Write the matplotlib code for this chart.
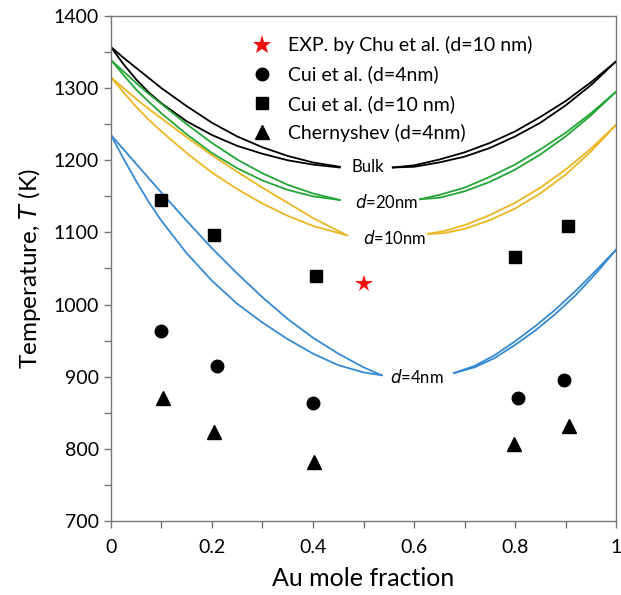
import matplotlib
matplotlib.use('Agg')
import matplotlib.pyplot as plt
from matplotlib.ticker import MultipleLocator
from matplotlib.lines import Line2D

plt.rcParams['font.family'] = ['Lato', 'DejaVu Sans']

# ---- phase boundary curves (Au mole fraction, T in K) ----
# left branches run from x=0 to the label gap, right branches from the gap to x=1
xl_a = [0, 0.025, 0.05, 0.075, 0.1, 0.15, 0.2, 0.25, 0.3, 0.35, 0.4, 0.453]

bulk_liq_l = [1357, 1342, 1328, 1314, 1300, 1275, 1252, 1233, 1218, 1206, 1197, 1191]
bulk_sol_l = [1357, 1333, 1312, 1294, 1279, 1254, 1235, 1220, 1209, 1200, 1194, 1190]
bulk_xr = [0.558, 0.6, 0.65, 0.7, 0.75, 0.8, 0.85, 0.9, 0.95, 1.0]
bulk_liq_r = [1190, 1193, 1201, 1211, 1224, 1240, 1260, 1282, 1308, 1337]
bulk_sol_r = [1190, 1191, 1197, 1205, 1217, 1233, 1252, 1276, 1304, 1337]

d20_liq_l = [1339, 1323, 1307, 1292, 1278, 1250, 1224, 1201, 1182, 1166, 1154, 1145]
d20_sol_l = [1339, 1318, 1298, 1281, 1265, 1236, 1210, 1189, 1172, 1159, 1150, 1145]
d20_xr = [0.612, 0.65, 0.7, 0.75, 0.8, 0.85, 0.9, 0.95, 1.0]
d20_liq_r = [1146, 1152, 1162, 1177, 1194, 1215, 1238, 1265, 1295]
d20_sol_r = [1146, 1148, 1157, 1170, 1187, 1208, 1233, 1262, 1295]

d10_xl = [0, 0.025, 0.05, 0.075, 0.1, 0.15, 0.2, 0.25, 0.3, 0.35, 0.4, 0.467]
d10_liq_l = [1315, 1300, 1285, 1271, 1258, 1232, 1207, 1184, 1162, 1141, 1120, 1096]
d10_sol_l = [1315, 1294, 1274, 1256, 1240, 1210, 1183, 1160, 1140, 1123, 1109, 1096]
d10_xr = [0.628, 0.66, 0.7, 0.75, 0.8, 0.85, 0.9, 0.95, 1.0]
d10_liq_r = [1098, 1102, 1110, 1124, 1141, 1162, 1187, 1216, 1249]
d10_sol_r = [1098, 1099, 1105, 1117, 1133, 1154, 1180, 1212, 1249]

d4_xl = [0, 0.025, 0.05, 0.075, 0.1, 0.15, 0.2, 0.25, 0.3, 0.35, 0.4, 0.45, 0.5, 0.536]
d4_liq_l = [1235, 1215, 1195, 1175, 1155, 1116, 1078, 1043, 1010, 980, 954, 932, 913, 902]
d4_sol_l = [1235, 1202, 1171, 1142, 1116, 1071, 1033, 1001, 975, 952, 932, 916, 906, 902]
d4_xr = [0.679, 0.72, 0.76, 0.8, 0.84, 0.88, 0.92, 0.96, 1.0]
d4_liq_r = [905, 915, 930, 949, 970, 993, 1019, 1047, 1076]
d4_sol_r = [905, 913, 926, 944, 964, 987, 1013, 1043, 1076]

# ---- literature points ----
chu_x = [0.5]
chu_T = [1029]
cui4_x = [0.1, 0.21, 0.4, 0.805, 0.897]
cui4_T = [964, 915, 864, 870, 896]
cui10_x = [0.1, 0.204, 0.406, 0.8, 0.905]
cui10_T = [1145, 1096, 1040, 1066, 1109]
cher_x = [0.104, 0.204, 0.401, 0.797, 0.906]
cher_T = [870, 824, 782, 807, 832]

curves = [
    ('black', xl_a, bulk_liq_l, bulk_sol_l, bulk_xr, bulk_liq_r, bulk_sol_r),
    ('#23a637', xl_a, d20_liq_l, d20_sol_l, d20_xr, d20_liq_r, d20_sol_r),
    ('#ecb622', d10_xl, d10_liq_l, d10_sol_l, d10_xr, d10_liq_r, d10_sol_r),
    ('#358ad2', d4_xl, d4_liq_l, d4_sol_l, d4_xr, d4_liq_r, d4_sol_r),
]

fig = plt.figure(figsize=(6.21, 5.95), dpi=100)
ax = fig.add_axes([0.1787, 0.1244, 0.8133, 0.8487])

for c, xl, liql, soll, xr, liqr, solr in curves:
    ax.plot(xl, liql, color=c, lw=1.3)
    ax.plot(xl, soll, color=c, lw=1.3)
    ax.plot(xr, liqr, color=c, lw=1.3)
    ax.plot(xr, solr, color=c, lw=1.3)

ax.plot(chu_x, chu_T, ls='none', marker='*', color='#ee1111', ms=13, mew=0)
ax.plot(cui4_x, cui4_T, ls='none', marker='o', color='black', ms=9)
ax.plot(cui10_x, cui10_T, ls='none', marker='s', color='black', ms=8.5)
ax.plot(cher_x, cher_T, ls='none', marker='^', color='black', ms=10)

lab_fs = 12
ax.text(0.509, 1191, 'Bulk', ha='center', va='center', fontsize=lab_fs)
ax.text(0.545, 1142, '$\\it{d}$=20nm', ha='center', va='center', fontsize=lab_fs)
ax.text(0.562, 1092, '$\\it{d}$=10nm', ha='center', va='center', fontsize=lab_fs)
ax.text(0.606, 899, '$\\it{d}$=4nm', ha='center', va='center', fontsize=lab_fs)

handles = [
    Line2D([], [], ls='none', marker='*', color='#ee1111', ms=14, mew=0),
    Line2D([], [], ls='none', marker='o', color='black', ms=9),
    Line2D([], [], ls='none', marker='s', color='black', ms=8.5),
    Line2D([], [], ls='none', marker='^', color='black', ms=10),
]
labels = ['EXP. by Chu et al. (d=10 nm)', 'Cui et al. (d=4nm)',
          'Cui et al. (d=10 nm)', 'Chernyshev (d=4nm)']
ax.legend(handles, labels, loc='upper left', bbox_to_anchor=(0.245, 0.975),
          frameon=False, fontsize=14, handletextpad=0.35, labelspacing=0.58,
          borderaxespad=0)

ax.set_xlim(0, 1)
ax.set_ylim(700, 1400)
ax.xaxis.set_major_locator(MultipleLocator(0.2))
ax.xaxis.set_minor_locator(MultipleLocator(0.1))
ax.yaxis.set_major_locator(MultipleLocator(100))
ax.yaxis.set_minor_locator(MultipleLocator(50))
ax.xaxis.set_major_formatter(plt.FuncFormatter(lambda v, p: f'{v:g}'))

for s in ax.spines.values():
    s.set_color('#777777')
    s.set_linewidth(1.0)
ax.tick_params(which='both', direction='out', color='#777777', width=1.0,
               length=5, labelsize=14)
ax.tick_params(axis='x', which='major', pad=8)

ax.set_xlabel('Au mole fraction', fontsize=18, labelpad=8)
ax.set_ylabel('Temperature, $\\it{T}$ (K)', fontsize=17.5, labelpad=8)

fig.savefig('out.png', dpi=100)
